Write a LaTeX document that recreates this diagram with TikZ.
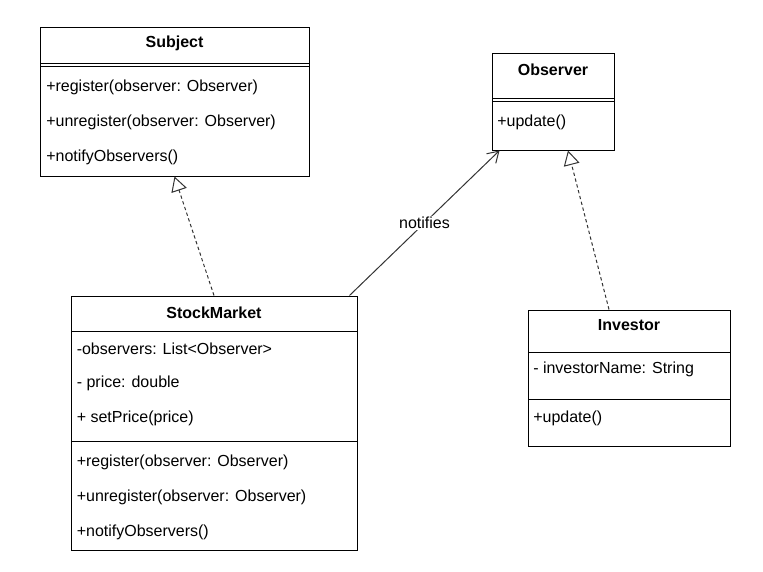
\documentclass[tikz,border=0pt]{standalone}
\usepackage{fontspec}
\setmainfont{Liberation Sans}
\usetikzlibrary{arrows.meta,fit,calc}

\begin{document}
\begin{tikzpicture}[x=0.75pt,y=-0.75pt,
  classbox/.style={draw, line width=0.75pt, inner sep=0pt},
  classname/.style={font=\fontsize{12}{14}\selectfont\bfseries},
  member/.style={anchor=west, inner sep=0pt, font=\fontsize{12}{14}\selectfont},
  realizes/.style={draw=black!80, line width=0.75pt, dash pattern=on 2.5pt off 2pt,
    -{Triangle[open, length=11pt, width=12pt]}},
  assoc/.style={draw=black!80, line width=0.75pt, -{Straight Barb[length=8pt, width=10pt]}}]
\useasboundingbox (0,0) rectangle (763,571);

\node[classbox, fit={(40,27) (309,176)}] (subject) {};
\draw[line width=0.75pt] (40,63) -- (309,63) (40,66.5) -- (309,66.5);
\node[classname] (subject-name) at (174.5,43.5) {Subject};
\foreach \y/\t [count=\i] in {87/{+register(observer: Observer)}, 122/{+unregister(observer: Observer)}, 157/{+notifyObservers()}}
	\node[member] (subject-op\i) at (46,\y) {\t};

\node[classbox, fit={(492,53) (614,150)}] (observer) {};
\draw[line width=0.75pt] (492,98) -- (614,98) (492,101.5) -- (614,101.5);
\node[classname] (observer-name) at (553,69.5) {Observer};
\node[member] (observer-op1) at (497,122.5) {+update()};

\node[classbox, fit={(71,296) (357,550)}] (stockmarket) {};
\draw[line width=0.75pt] (71,331.5) -- (357,331.5);
\draw[line width=0.75pt] (71,441.5) -- (357,441.5);
\node[classname] (stockmarket-name) at (214,312.5) {StockMarket};
\foreach \y/\t [count=\i] in {348.5/{-observers: List<Observer>}, 383/{- price: double}, 418.5/{+ setPrice(price)}}
	\node[member] (stockmarket-attr\i) at (76.5,\y) {\t};
\foreach \y/\t [count=\i] in {462/{+register(observer: Observer)}, 497/{+unregister(observer: Observer)}, 532/{+notifyObservers()}}
	\node[member] (stockmarket-op\i) at (76.5,\y) {\t};

\node[classbox, fit={(528,310) (730,446)}] (investor) {};
\draw[line width=0.75pt] (528,352.5) -- (730,352.5);
\draw[line width=0.75pt] (528,399.5) -- (730,399.5);
\node[classname] (investor-name) at (629,325.5) {Investor};
\node[member] (investor-attr1) at (533,369) {- investorName: String};
\node[member] (investor-op1) at (533,418.5) {+update()};

\draw[realizes] (stockmarket.north) -- (subject.south);
\draw[realizes] ($(investor.north)+(-20,0)$) -- ($(observer.south)+(15,0)$);
\draw[assoc] ($(stockmarket.north east)+(-8,0)$) -- node[fill=white, inner sep=1pt, font=\fontsize{12}{14}\selectfont] (notifies) {notifies} ($(observer.south west)+(8,0)$);
\end{tikzpicture}
\end{document}
